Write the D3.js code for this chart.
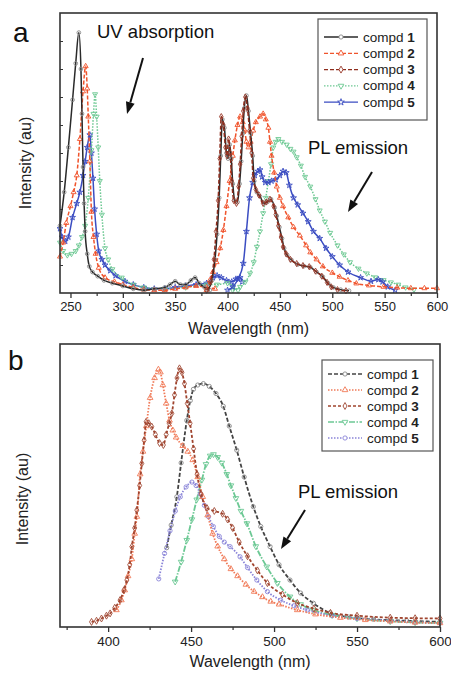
<!DOCTYPE html>
<html><head><meta charset="utf-8">
<script src="https://cdn.jsdelivr.net/npm/d3@7"></script>
<style>body{margin:0;background:#fff;}svg{display:block;font-family:"Liberation Sans",Arial,sans-serif;}</style>
</head><body>
<svg id="c" width="451" height="675"></svg>
<script>
// ---------- DATA (wavelength nm, intensity au) ----------
const compounds = ["1","2","3","4","5"];
const xTicksA = [250,300,350,400,450,500,550,600];
const xTicksB = [400,450,500,550,600];

// Panel a: UV absorption
const uvA1 = [[240,2.4],[244,3.6],[248,5.2],[252,6.9],[255,8.2],[258,9.3],[260,8.0],[261,6.4],[262,4.5],[263,3.2],[264,2.2],[266,1.4],[268,0.95],[271,0.75],[276,0.6],[282,0.45],[290,0.35],[300,0.25],[310,0.15],[320,0.1],[330,0.15],[340,0.2],[345,0.3],[350,0.42],[355,0.3],[360,0.3],[365,0.45],[369,0.55],[373,0.35],[378,0.2],[383,0.1]];
const uvA2 = [[240,1.3],[243,1.8],[246,2.5],[250,3.1],[253,3.6],[256,4.2],[259,5.5],[262,7.2],[264.5,8.1],[266,7.3],[267,6.3],[268.5,4.7],[270,2.9],[272,2.0],[274,1.4],[277,0.9],[283,0.55],[292,0.4],[300,0.3],[310,0.2],[320,0.12],[330,0.1],[340,0.1],[350,0.15],[360,0.2],[370,0.25],[380,0.2],[388,0.15]];
const uvA4 = [[240,1.8],[243,1.5],[247,1.35],[251,1.4],[255,1.5],[258,1.7],[261,2.0],[264,2.4],[267,3.4],[270,5.1],[272,6.4],[273.5,7.1],[275,6.3],[276.5,5.2],[278,4.0],[280,2.8],[283,1.6],[286,1.2],[290,0.85],[299,0.55],[310,0.3],[320,0.2],[340,0.15],[360,0.2],[380,0.3],[390,0.3],[400,0.35],[405,0.25],[410,0.1]];
const uvA5 = [[240,2.3],[242,2.0],[245,1.85],[248,2.0],[252,2.7],[256,3.2],[259,3.6],[262,4.2],[264,4.7],[266,5.2],[268.5,5.65],[270,5.0],[271.5,4.1],[273,3.0],[275,2.1],[277,1.5],[280,1.2],[283,1.0],[288,0.8],[293,0.62],[302,0.42],[310,0.3],[320,0.2],[330,0.15],[340,0.15],[350,0.2],[360,0.25],[370,0.3],[380,0.35],[386,0.55],[390,0.62],[394,0.55],[399,0.45],[404,0.4],[408,0.5],[412,0.55],[414,0.4]];

// Panel a: PL emission
const plA1 = [[381,0.1],[385,0.45],[388,1.2],[390,2.1],[392,3.4],[393.5,4.9],[395,6.2],[397,5.9],[399,5.0],[400.5,4.8],[402,5.3],[403.5,4.8],[405,3.9],[407,3.3],[409.5,3.25],[411.5,3.9],[413,4.7],[414.5,5.7],[416,6.6],[418,7.05],[420,6.5],[422,5.7],[424,4.9],[425.5,4.0],[428,3.6],[431,3.45],[435,3.2],[438,3.25],[441.5,3.35],[445,3.05],[447,2.75],[449.5,2.35],[452,1.95],[454,1.6],[457,1.35],[461,1.18],[467,1.02],[473,0.96],[479,0.92],[485,0.75],[491,0.58],[496,0.35],[501,0.2],[508,0.12],[516,0.08]];
const plA2 = [[380,0.1],[383,0.45],[386,0.75],[389.5,1.1],[393,1.6],[396,2.25],[399,3.1],[402,4.0],[405,4.9],[407,5.45],[409.5,6.0],[412,6.3],[414.5,6.1],[416.5,5.8],[418,5.4],[420,5.2],[422,5.4],[424.5,5.8],[427,6.1],[431,6.3],[434,6.4],[436.5,6.2],[439,5.9],[440.5,5.4],[442,4.9],[444.5,4.3],[447,3.8],[450,3.4],[453,3.1],[458,2.7],[463,2.35],[469,2.05],[475,1.7],[479,1.45],[485,1.2],[491,0.95],[500,0.72],[507,0.58],[515,0.45],[523,0.34],[535,0.27],[549,0.22],[562,0.19],[575,0.17],[588,0.17],[600,0.17]];
const plA3 = [[380,0.1],[384,0.4],[387,1.2],[389,2.2],[391,3.3],[392.5,4.8],[394,6.3],[396,6.0],[398,5.2],[399.5,4.9],[401,5.5],[402.5,5.0],[404,4.0],[406,3.3],[408.5,3.2],[410.5,3.8],[412,4.6],[413.5,5.6],[415,6.5],[417,7.0],[419,6.6],[421,5.8],[423,5.0],[424.5,4.1],[427,3.7],[430,3.5],[434,3.2],[437,3.25],[440.5,3.35],[444,3.1],[446,2.8],[448.5,2.4],[451,2.0],[453,1.65],[456,1.4],[460,1.2],[466,1.05],[472,0.98],[478,0.94],[484,0.78],[490,0.6],[495,0.38],[499,0.22],[505,0.12],[513,0.08]];
const plA4 = [[405,0.1],[412,0.22],[417,0.4],[421.5,0.7],[425,1.1],[428,1.65],[431,2.2],[434,2.85],[436.5,3.4],[439,4.0],[441.5,4.6],[443.7,5.2],[446,5.4],[448.5,5.5],[452,5.4],[456.5,5.3],[460,5.15],[463,5.05],[466,4.85],[470,4.55],[474,4.15],[479,3.8],[484,3.35],[488,2.95],[493,2.55],[498,2.15],[505,1.7],[511,1.38],[517,1.1],[525,0.87],[533,0.7],[541,0.56],[549,0.46],[556,0.38],[563,0.3],[570,0.2],[578,0.12]];
const plA5 = [[400,0.1],[405,0.22],[410,0.5],[415,1.06],[418,2.2],[421,3.4],[424,3.95],[426,4.2],[429,4.35],[431,4.4],[433,4.15],[436,3.95],[439,3.95],[442,4.0],[446,4.05],[450,4.2],[453,4.35],[456,4.3],[459,3.85],[463,3.4],[467,3.15],[472,2.85],[477,2.55],[482,2.2],[488,1.95],[494,1.6],[500,1.3],[507,1.0],[515,0.75],[527,0.55],[537,0.42],[544,0.48],[548,0.4],[553,0.22],[560,0.1]];

// Panel b: PL emission
const plB1 = [[435.3,2.8],[438,3.6],[441.4,4.6],[444,5.8],[447.4,7.3],[449.5,8.0],[451.4,8.4],[454,8.55],[457.4,8.6],[461,8.5],[465,8.25],[469.4,7.8],[473,7.1],[477.5,6.25],[482,5.3],[487.5,4.25],[492,3.55],[497.6,2.84],[503,2.2],[509.6,1.66],[516,1.2],[523.7,0.84],[533.7,0.5],[545,0.35],[560,0.27],[580,0.22],[600,0.18]];
const plB2 = [[405,0.6],[408,0.95],[410,1.3],[412,1.8],[414.3,2.4],[416,3.3],[417.3,3.9],[419.3,5.4],[421,6.2],[423,7.1],[425.3,8.1],[428,8.8],[430.3,9.1],[431.5,9.0],[433,8.55],[435,7.9],[437,7.3],[439,6.95],[441,6.7],[445,6.4],[448,6.2],[451,5.9],[454,5.3],[457,4.6],[460,3.95],[463,3.3],[466,2.85],[470,2.4],[474,2.05],[478,1.8],[483,1.5],[488,1.25],[493,1.06],[498,0.9],[503,0.8],[514,0.6],[525,0.45],[540,0.33],[555,0.25],[570,0.2],[585,0.16],[600,0.14]];
const plB3 = [[390,0.18],[393,0.22],[396,0.3],[399,0.4],[401.2,0.48],[404,0.68],[407.2,0.95],[409.5,1.3],[411.3,1.66],[413,2.2],[414.3,2.84],[416,3.5],[417.3,4.13],[419,5.0],[420.3,5.78],[421.7,6.6],[422.9,7.25],[424.5,7.2],[426.3,7.08],[428.5,6.8],[431,6.5],[433.3,6.43],[435,6.8],[436.8,7.2],[438.4,7.55],[440,8.2],[441.5,8.8],[443,9.14],[444.5,9.0],[446,8.6],[447.7,7.9],[449.4,7.2],[451.5,6.3],[453.6,5.4],[456,4.7],[459.6,4.2],[464,4.1],[469,4.0],[472,3.8],[475,3.5],[479,3.0],[484,2.5],[490,2.0],[496,1.55],[505,1.15],[514,0.85],[524,0.65],[534,0.5],[550,0.4],[570,0.33],[585,0.31],[600,0.3]];
const plB4 = [[440.4,1.6],[444,2.3],[447.4,3.07],[450.5,3.8],[453.4,4.5],[456.5,5.2],[459,5.75],[461.5,6.05],[463.5,6.1],[466,6.0],[468.5,5.8],[471.5,5.4],[474,5.0],[477,4.55],[480,4.1],[483.6,3.66],[489,2.85],[495.6,2.13],[502,1.55],[509.6,1.07],[516,0.8],[523.7,0.6],[535,0.42],[550,0.3],[570,0.2],[585,0.16],[600,0.14]];
const plB5 = [[430.5,1.7],[434,2.6],[437.3,3.4],[440.5,4.1],[443.5,4.6],[447,4.95],[450.5,5.12],[453,5.0],[455.5,4.7],[458,4.3],[460.5,3.9],[463.4,3.55],[467,3.2],[470,3.0],[473.5,2.84],[479.5,2.48],[484,2.1],[489.6,1.66],[496,1.25],[504,0.95],[512,0.75],[520,0.6],[535,0.4],[550,0.3],[570,0.22],[585,0.17],[600,0.14]];

// ---------- STYLES ----------
const styleA = [
  {line:"#2a2a2a", mark:"#8a8a8a", dash:null, sym:d3.symbolCircle},
  {line:"#f0542c", mark:"#f0542c", dash:"4,2", sym:d3.symbolTriangle},
  {line:"#8e2c1c", mark:"#9a3a2a", dash:"4,2", sym:d3.symbolDiamond},
  {line:"#6cc892", mark:"#6cc892", dash:"1.5,1.5", sym:d3.symbolTriangle, rot:180},
  {line:"#3b4dc2", mark:"#3b4dc2", dash:null, sym:d3.symbolStar}
];
const styleB = [
  {line:"#444", mark:"#8a8a8a", dash:"4,2", sym:d3.symbolCircle},
  {line:"#f07a58", mark:"#f07a58", dash:"1.5,1.5", sym:d3.symbolTriangle},
  {line:"#a0442e", mark:"#a04a36", dash:"3,2", sym:d3.symbolDiamond},
  {line:"#6cc894", mark:"#6cc894", dash:"6,1.5,1.5,1.5", sym:d3.symbolTriangle, rot:180},
  {line:"#8a84d8", mark:"#8a84d8", dash:"1.5,1.5", sym:d3.symbolCircle}
];

const svg = d3.select("#c");

function panel(o){
  const x = d3.scaleLinear().domain(o.xd).range([o.l,o.r]);
  const y = d3.scaleLinear().domain([0,10]).range([o.b,o.t]);
  const g = svg.append("g");
  const ax = d3.axisBottom(x).tickValues(o.ticks).tickSize(5).tickPadding(4).tickFormat(d3.format("d"));
  const gx = g.append("g").attr("transform",`translate(0,${o.b})`).call(ax);
  gx.select(".domain").remove();
  gx.selectAll("text").attr("font-size",o.tickFs).attr("fill","#222").attr("font-family","Liberation Sans, Arial, sans-serif");
  gx.selectAll("line").attr("stroke","#333").attr("stroke-width",1.3);
  const minor = o.ticks.map(t=>t-25).concat([o.ticks[o.ticks.length-1]+25]).filter(t=>t>o.xd[0]&&t<o.xd[1]);
  const axm = d3.axisBottom(x).tickValues(minor).tickSize(3).tickFormat("");
  const gm = g.append("g").attr("transform",`translate(0,${o.b})`).call(axm);
  gm.select(".domain").remove();
  gm.selectAll("line").attr("stroke","#333").attr("stroke-width",1.2);
  if(o.yTicks){
    const ay = d3.axisRight(y).tickValues(d3.range(1,10)).tickSize(3).tickFormat("");
    const gy = g.append("g").attr("transform",`translate(${o.l},0)`).call(ay);
    gy.select(".domain").remove();
    gy.selectAll("line").attr("stroke","#333").attr("stroke-width",1);
  }
  const line = d3.line().x(d=>x(d[0])).y(d=>y(d[1])).curve(d3.curveMonotoneX);
  const cg = g.append("g");
  o.series.forEach(s=>{
    const st = o.styles[s.k];
    cg.append("path").datum(s.d).attr("d",line).attr("fill","none")
      .attr("stroke",st.line).attr("stroke-width",o.lw)
      .attr("stroke-dasharray",st.dash);
    const sym = d3.symbol().type(st.sym).size(o.ms);
    cg.selectAll(null).data(s.d).join("path").attr("d",sym)
      .attr("transform",d=>`translate(${x(d[0])},${y(d[1])})${st.rot?` rotate(${st.rot})`:""}`)
      .attr("fill","none").attr("stroke",st.mark).attr("stroke-width",0.9);
  });
  g.append("rect").attr("x",o.l).attr("y",o.t).attr("width",o.r-o.l).attr("height",o.b-o.t)
    .attr("fill","none").attr("stroke","#333").attr("stroke-width",1.6);
  const lg = g.append("g");
  lg.append("rect").attr("x",o.leg.x).attr("y",o.leg.y).attr("width",o.leg.w).attr("height",o.leg.h)
    .attr("fill","#fff").attr("stroke","#555").attr("stroke-width",1.2);
  compounds.forEach((c,i)=>{
    const st = o.styles[i];
    const yy = o.leg.r0 + i*o.leg.dy;
    lg.append("line").attr("x1",o.leg.x+6).attr("x2",o.leg.x+40).attr("y1",yy).attr("y2",yy)
      .attr("stroke",st.line).attr("stroke-width",1.3).attr("stroke-dasharray",st.dash);
    lg.append("path").attr("d",d3.symbol().type(st.sym).size(14))
      .attr("transform",`translate(${o.leg.x+23},${yy})${st.rot?` rotate(${st.rot})`:""}`)
      .attr("fill","#fff").attr("stroke",st.mark).attr("stroke-width",0.9);
    const t = lg.append("text").attr("x",o.leg.x+45).attr("y",yy+4.5).attr("font-size",13.5).attr("fill","#222");
    t.append("tspan").text("compd ");
    t.append("tspan").attr("font-weight","bold").text(c);
  });
  g.append("text").attr("x",(o.l+o.r)/2).attr("y",o.xtY).attr("text-anchor","middle")
    .attr("font-size",16).attr("fill","#222").text("Wavelength (nm)");
  g.append("text").attr("transform",`translate(${o.ytX},${o.ytY}) rotate(-90)`).attr("text-anchor","middle")
    .attr("font-size",16).attr("fill","#222").text("Intensity (au)");
  return {x,y,g};
}

function arrow(x1,y1,x2,y2){
  const ang = Math.atan2(y2-y1,x2-x1), L=12, W=4.5;
  const bx = x2-L*Math.cos(ang), by = y2-L*Math.sin(ang);
  svg.append("line").attr("x1",x1).attr("y1",y1).attr("x2",bx).attr("y2",by)
    .attr("stroke","#111").attr("stroke-width",2);
  const px = -Math.sin(ang)*W, py = Math.cos(ang)*W;
  svg.append("path").attr("d",`M${x2},${y2}L${bx+px},${by+py}L${bx-px},${by-py}Z`).attr("fill","#111");
}

panel({xd:[240,600], l:60, r:437, t:13, b:293, ticks:xTicksA, tickFs:13, yTicks:true, lw:1.5, ms:11,
  styles:styleA,
  series:[{k:4,d:uvA5},{k:3,d:uvA4},{k:1,d:uvA2},{k:0,d:uvA1},
          {k:3,d:plA4},{k:4,d:plA5},{k:1,d:plA2},{k:0,d:plA1},{k:2,d:plA3}],
  leg:{x:318,y:19,w:109,h:101,r0:37,dy:16.3},
  xtY:334, ytX:31, ytY:163});
panel({xd:[371,600], l:60, r:440, t:344, b:627, ticks:xTicksB, tickFs:13.5, yTicks:false, lw:1.8, ms:14,
  styles:styleB,
  series:[{k:0,d:plB1},{k:3,d:plB4},{k:4,d:plB5},{k:1,d:plB2},{k:2,d:plB3}],
  leg:{x:322,y:360,w:111,h:91,r0:374,dy:16},
  xtY:667, ytX:28, ytY:499});

svg.append("text").attr("x",13).attr("y",42).attr("font-size",28).attr("fill","#111").text("a");
svg.append("text").attr("x",8).attr("y",370).attr("font-size",28).attr("fill","#111").text("b");
svg.append("text").attr("x",97).attr("y",38).attr("font-size",18.5).attr("fill","#111").text("UV absorption");
svg.append("text").attr("x",308).attr("y",154).attr("font-size",18.5).attr("fill","#111").text("PL emission");
svg.append("text").attr("x",298).attr("y",498).attr("font-size",18.5).attr("fill","#111").text("PL emission");
arrow(143,58,127,114);
arrow(372,172,348,212);
arrow(305,510,281,549);
</script>
</body></html>
